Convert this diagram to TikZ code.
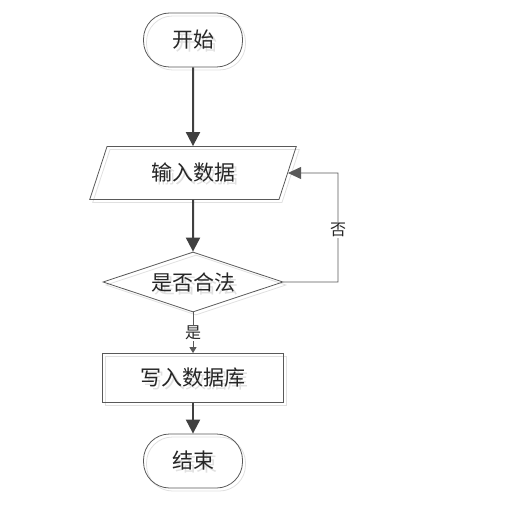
\documentclass[tikz,border=0pt]{standalone}
\usepackage{fontspec}
\newfontfamily\cjk{Noto Sans CJK SC}
\usetikzlibrary{arrows.meta,shapes.geometric}
\begin{document}
\begin{tikzpicture}[x=1pt,y=-1pt,
  base/.style={draw=black!65, line width=0.8pt, font=\cjk\fontsize{21}{21}\selectfont, text=black!85, inner sep=0pt},
  ghost/.style={draw=black!12, text=black!12},
  term/.style={base, rectangle, rounded corners=26pt, minimum width=99pt, minimum height=54pt},
  io/.style={base, trapezium, trapezium left angle=66.5, trapezium right angle=113.5, trapezium stretches=true, minimum width=207pt, minimum height=53pt},
  decide/.style={base, diamond, aspect=3, minimum width=180pt, minimum height=60pt},
  proc/.style={base, rectangle, minimum width=181pt, minimum height=49pt},
  bigarrow/.style={draw=black!75, line width=2pt, -{Triangle[length=14pt,width=14pt]}},
  thinline/.style={draw=black!65, line width=0.8pt},
  lbl/.style={font=\cjk\fontsize{16}{16}\selectfont, text=black!85, fill=white, inner sep=1pt}
]
\useasboundingbox (0,0) rectangle (527,505);
% ghost shadows
\node[term, ghost] (gs) at (196,43) {开始};
\node[io, ghost] (gi) at (196,176) {输入数据};
\node[decide, ghost] (gd) at (196,285) {是否合法};
\node[proc, ghost] (gp) at (196,381) {写入数据库};
\node[term, ghost] (ge) at (196,464) {结束};
% main nodes
\node[term] (start) at (193,40) {开始};
\node[io] (in) at (193,173) {输入数据};
\node[decide] (chk) at (193,282) {是否合法};
\node[proc] (wr) at (193,378) {写入数据库};
\node[term] (end) at (193,461) {结束};
% connectors
\draw[bigarrow] (start.south) -- (in.north);
\draw[bigarrow] (in.south) -- (chk.north);
\draw[bigarrow] (wr.south) -- (end.north);
\draw[thinline, -{Triangle[length=6pt,width=7pt]}] (chk.south) -- node[lbl] {是} (wr.north);
\coordinate (c1) at (338,282);
\coordinate (c2) at (338,173);
\draw[thinline, -{Triangle[length=13pt,width=12pt]}] (chk.east) -- (c1) -- node[lbl, pos=0.48] {否} (c2) -- (in.east);
\end{tikzpicture}
\end{document}
